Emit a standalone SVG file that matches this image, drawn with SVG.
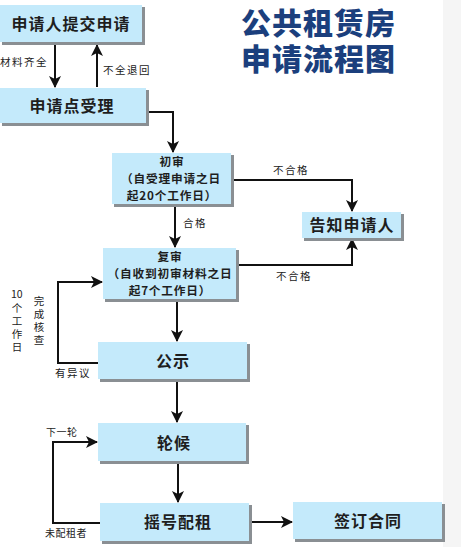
<svg xmlns="http://www.w3.org/2000/svg" width="461" height="547" viewBox="0 0 461 547">
<style>
.box{fill:#c4eafb;stroke:none}
.sh{fill:#8a8f93}
.t{font-family:"Noto Sans CJK SC","Noto Sans",sans-serif;fill:#1e1e1e;text-anchor:middle}
.big{font-size:16px;font-weight:bold;letter-spacing:1px}
.mid{font-size:11.7px;font-weight:bold;letter-spacing:0.8px}
.lab{font-family:"Noto Sans CJK SC","Noto Sans",sans-serif;fill:#222;font-size:10.5px;letter-spacing:1.5px}
.vt{font-family:"Noto Sans CJK SC","Noto Sans",sans-serif;fill:#222;font-size:10.5px;writing-mode:vertical-rl;letter-spacing:2.5px}
.ln{fill:none;stroke:#111;stroke-width:2}
.title{font-family:"Noto Sans CJK SC",sans-serif;font-size:30px;font-weight:900;fill:#1b3f7d;letter-spacing:1px}
</style>
<defs>
<marker id="a" viewBox="0 0 12 12" refX="11" refY="6" markerWidth="12" markerHeight="12" orient="auto" markerUnits="userSpaceOnUse">
<path d="M0,0 L12,6 L0,12 L3,6 z" fill="#111"/>
</marker>
</defs>
<rect x="0" y="0" width="461" height="547" fill="#ffffff"/>
<rect x="443" y="0" width="18" height="547" fill="#f5f5f5"/>

<g id="title">
<text class="title" x="241" y="34">公共租赁房</text>
<text class="title" x="241" y="70">申请流程图</text>
</g>

<g id="connectors">
<line class="ln" x1="55" y1="43" x2="55" y2="87" marker-end="url(#a)"/>
<line class="ln" x1="97" y1="87" x2="97" y2="45" marker-end="url(#a)"/>
<polyline class="ln" points="147,112 173,112 173,152" marker-end="url(#a)"/>
<line class="ln" x1="175" y1="206" x2="175" y2="247" marker-end="url(#a)"/>
<polyline class="ln" points="232,180 352,180 352,211" marker-end="url(#a)"/>
<polyline class="ln" points="237,265 352,265 352,239" marker-end="url(#a)"/>
<line class="ln" x1="177" y1="301" x2="177" y2="341" marker-end="url(#a)"/>
<polyline class="ln" points="98,363 58,363 58,282 102,282" marker-end="url(#a)"/>
<line class="ln" x1="177" y1="381" x2="177" y2="422" marker-end="url(#a)"/>
<line class="ln" x1="178" y1="463" x2="178" y2="502" marker-end="url(#a)"/>
<polyline class="ln" points="100,523 53,523 53,442 97,442" marker-end="url(#a)"/>
<line class="ln" x1="251" y1="522" x2="292" y2="522" marker-end="url(#a)"/>
<text class="lab" x="0" y="66">材料齐全</text>
<text class="lab" x="103" y="74">不全退回</text>
<text class="lab" x="273" y="174">不合格</text>
<text class="lab" x="183" y="227">合格</text>
<text class="lab" x="276" y="280">不合格</text>
<text class="lab" x="55" y="377">有异议</text>
<text class="lab" x="46" y="436" style="font-size:10px;letter-spacing:0.5px">下一轮</text>
<text class="lab" x="45" y="537" style="font-size:10px;letter-spacing:0.5px">未配租者</text>
<text class="lab" x="11" y="298" style="letter-spacing:0">10</text>
<text class="vt" x="17" y="303">个工作日</text>
<text class="vt" x="39" y="296">完成核查</text>
</g>

<g id="n1"><rect class="sh" x="2" y="7" width="143" height="38"/><rect class="box" x="0" y="5" width="142" height="37"/><text class="t big" x="71" y="30">申请人提交申请</text></g>
<g id="n2"><rect class="sh" x="2" y="90" width="147" height="36"/><rect class="box" x="0" y="88" width="146" height="35"/><text class="t big" x="72" y="112">申请点受理</text></g>
<g id="n3"><rect class="sh" x="114" y="155" width="120" height="52"/><rect class="box" x="112" y="153" width="119" height="51"/>
<text class="t mid" x="172" y="166">初审</text>
<text class="t mid" x="171" y="183">（自受理申请之日</text>
<text class="t mid" x="172" y="200">起20个工作日）</text></g>
<g id="n4"><rect class="sh" x="304" y="214" width="100" height="27"/><rect class="box" x="302" y="212" width="99" height="26"/><text class="t big" x="352" y="231">告知申请人</text></g>
<g id="n5"><rect class="sh" x="105" y="250" width="134" height="52"/><rect class="box" x="103" y="248" width="133" height="51"/>
<text class="t mid" x="170" y="261">复审</text>
<text class="t mid" x="170" y="278">（自收到初审材料之日</text>
<text class="t mid" x="170" y="295">起7个工作日）</text></g>
<g id="n6"><rect class="sh" x="100" y="344" width="150" height="38"/><rect class="box" x="98" y="342" width="149" height="37"/><text class="t big" x="173" y="367">公示</text></g>
<g id="n7"><rect class="sh" x="100" y="425" width="149" height="39"/><rect class="box" x="98" y="423" width="148" height="38"/><text class="t big" x="174" y="449">轮候</text></g>
<g id="n8"><rect class="sh" x="102" y="505" width="150" height="39"/><rect class="box" x="100" y="503" width="149" height="38"/><text class="t big" x="178" y="528">摇号配租</text></g>
<g id="n9"><rect class="sh" x="295" y="504" width="150" height="38"/><rect class="box" x="293" y="502" width="149" height="37"/><text class="t big" x="368" y="527">签订合同</text></g>
</svg>
